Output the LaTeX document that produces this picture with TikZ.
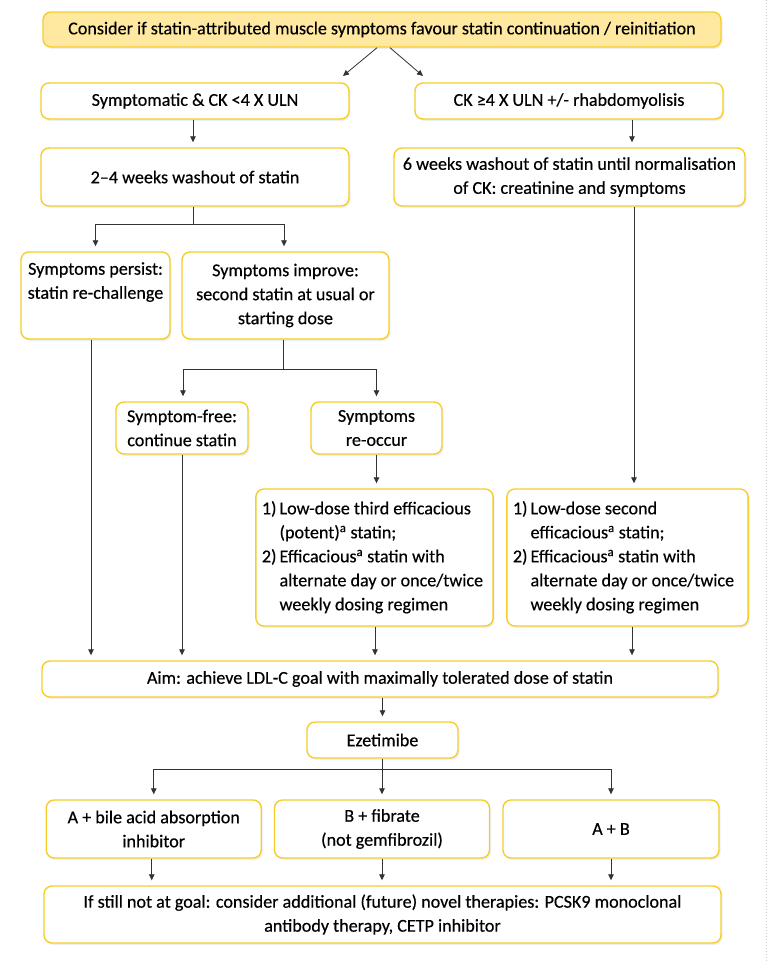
\documentclass[tikz,border=0pt]{standalone}
\usepackage{fontspec}
\setmainfont{Carlito}[FakeBold=0.4]
\usetikzlibrary{arrows.meta,shadows,calc}
\definecolor{boxline}{HTML}{F6CD2A}
\definecolor{topfill}{HTML}{FFE9A0}
\definecolor{connc}{HTML}{333333}
\begin{document}
\begin{tikzpicture}[x=1pt,y=-1pt,
  font=\fontsize{18.1}{24}\selectfont,
  box/.style={draw=boxline, line width=1.4pt, rounded corners=8pt, fill=white,
    align=center, inner sep=4pt,
    drop shadow={shadow xshift=1.5pt,shadow yshift=-2pt,opacity=0.12}},
  topbox/.style={box, fill=topfill},
  listbox/.style={box, align=left, inner xsep=6pt},
  conn/.style={draw=connc, line width=0.8pt},
  arr/.style={conn, -{Triangle[length=6pt,width=5.5pt]}, shorten >=5pt}]
\useasboundingbox (0,0) rectangle (768,961);
\fill[white] (0,0) rectangle (768,961);
\draw[gray!40, line width=0.6pt, dash pattern=on 1pt off 2pt] (766.5,0) -- (766.5,961);

% nodes
\node[topbox, minimum width=678pt, minimum height=35pt] (top) at (382,29.5)
  {Consider if statin-attributed muscle symptoms favour statin continuation / reinitiation};
\node[box, minimum width=308pt, minimum height=36pt] (sym) at (195,101)
  {Symptomatic \& CK <4 X ULN};
\node[box, minimum width=308pt, minimum height=36pt] (ck) at (569,101)
  {CK ≥4 X ULN +/- rhabdomyolisis};
\node[box, minimum width=308pt, minimum height=58pt] (wash24) at (195,177)
  {2–4 weeks washout of statin};
\node[box, minimum width=351pt, minimum height=58pt] (wash6) at (569.5,177)
  {6 weeks washout of statin until normalisation\\of CK: creatinine and symptoms};
\node[box, minimum width=149pt, minimum height=87pt] (persist) at (95.5,295.5)
  {Symptoms persist:\\statin re-challenge\\[6pt]};
\node[box, minimum width=207pt, minimum height=87pt] (improve) at (285.5,295.5)
  {Symptoms improve:\\second statin at usual or\\starting dose};
\node[box, minimum width=132pt, minimum height=52pt] (free) at (182,428)
  {Symptom-free:\\continue statin};
\node[box, minimum width=131pt, minimum height=52pt] (reoccur) at (376.5,428)
  {Symptoms\\re-occur};
\node[listbox, minimum width=231pt, minimum height=137pt] (low3) at (374.5,557.5)
  {\begin{tabular}{@{}l@{\,}l@{}}
   1) & Low-dose third efficacious\\
      & (potent)\textsuperscript{a} statin;\\
   2) & Efficacious\textsuperscript{a} statin with\\
      & alternate day or once/twice\\
      & weekly dosing regimen
   \end{tabular}\hspace*{4pt}};
\node[listbox, minimum width=237pt, minimum height=137pt] (low2) at (627.5,557.5)
  {\begin{tabular}{@{}l@{\,}l@{}}
   1) & Low-dose second\\
      & efficacious\textsuperscript{a} statin;\\
   2) & Efficacious\textsuperscript{a} statin with\\
      & alternate day or once/twice\\
      & weekly dosing regimen
   \end{tabular}\hspace*{8pt}};
\node[box, minimum width=676pt, minimum height=36pt] (aim) at (380,679)
  {Aim: achieve LDL-C goal with maximally tolerated dose of statin};
\node[box, minimum width=151pt, minimum height=36pt] (eze) at (382.5,740)
  {Ezetimibe};
\node[box, minimum width=215pt, minimum height=58pt] (A) at (153.75,829)
  {A + bile acid absorption\\inhibitor};
\node[box, minimum width=215pt, minimum height=58pt] (B) at (382,829)
  {B + fibrate\\(not gemfibrozil)};
\node[box, minimum width=216pt, minimum height=58pt] (AB) at (611,829)
  {A + B};
\node[box, minimum width=677pt, minimum height=57pt] (final) at (382.5,914.5)
  {If still not at goal: consider additional (future) novel therapies: PCSK9 monoclonal\\antibody therapy, CETP inhibitor};

% connectors
\coordinate (dl) at (343,76);
\coordinate (dr) at (423,76);
\draw[arr, shorten >=0pt] ([xshift=-5pt]top.south) -- (dl);
\draw[arr, shorten >=0pt] ([xshift=8pt]top.south) -- (dr);

\draw[arr] ([xshift=-2pt]sym.south) -- ([xshift=-2pt]sym.south |- wash24.north);
\draw[arr] ([xshift=63pt]ck.south) -- ([xshift=63pt]ck.south |- wash6.north);

\coordinate (j1) at (193,224);
\draw[conn] ([xshift=-2pt]wash24.south) -- (j1);
\draw[arr] (j1) -| (persist.north);
\draw[arr] (j1) -| ([xshift=-1.5pt]improve.north);

\coordinate (j2) at (283,369);
\draw[conn] ([xshift=-2.5pt]improve.south) -- (j2);
\draw[arr] (j2) -| ([xshift=1pt]free.north);
\draw[arr] (j2) -| (reoccur.north);

\draw[arr] ([xshift=64.5pt]wash6.south) -- ([xshift=64.5pt]wash6.south |- low2.north);
\draw[arr] (reoccur.south) -- (reoccur.south |- low3.north);

\draw[arr] ([xshift=-4.5pt]persist.south) -- ([xshift=-4.5pt]persist.south |- aim.north);
\draw[arr] (free.south) -- (free.south |- aim.north);
\draw[arr] ([xshift=0.5pt]low3.south) -- ([xshift=0.5pt]low3.south |- aim.north);
\draw[arr] ([xshift=4.5pt]low2.south) -- ([xshift=4.5pt]low2.south |- aim.north);

\draw[arr] (aim.south -| eze.north) -- (eze.north);

\coordinate (j3) at (382.5,769);
\draw[conn] (eze.south) -- (j3);
\draw[arr] (j3) -| (A.north);
\draw[arr] (j3) -- (j3 -| B.north) -- (B.north);
\draw[arr] (j3) -| (AB.north);

\draw[arr] ([xshift=-2pt]A.south) -- ([xshift=-2pt]A.south |- final.north);
\draw[arr] (B.south) -- (B.south |- final.north);
\draw[arr] (AB.south) -- (AB.south |- final.north);
\end{tikzpicture}
\end{document}
